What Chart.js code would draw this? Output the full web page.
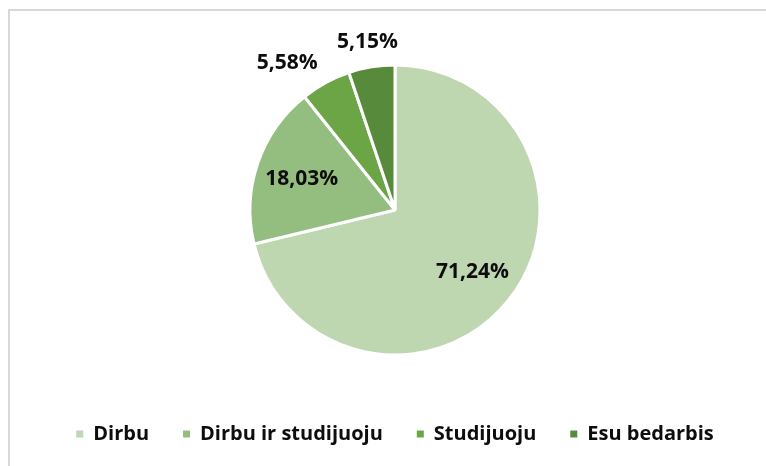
<!doctype html>
<html lang="lt">
  <head>
    <meta charset="utf-8" />
    <title>Užimtumas</title>
    <style>
      body {
        margin: 0;
        background: #ffffff;
      }

      .frame {
        position: absolute;
        left: 8px;
        top: 9px;
        width: 900px;
        height: 600px;
        border: 2px solid #d9d9d9;
      }

      #pieChart {
        position: absolute;
        left: 0;
        top: 0;
      }
    </style>
  </head>

  <body>
    <div class="frame"></div>
    <canvas id="pieChart" width="766" height="466"></canvas>

    <script src="https://cdn.jsdelivr.net/npm/chart.js@4.4.1/dist/chart.umd.min.js"></script>
    <script type="text/javascript">
      // Data
      const categories = ["Dirbu", "Dirbu ir studijuoju", "Studijuoju", "Esu bedarbis"];
      const shares = [71.24, 18.03, 5.58, 5.15];
      const sliceColors = ["#bfd7b1", "#94be7f", "#6ba546", "#578a3b"];

      const textColor = "#0d0d0d";
      const fontFamily = "'Open Sans'";
      const labelFont = "bold 21px " + fontFamily;

      // Format 71.24 -> "71,24%"
      function formatShare(value) {
        return value.toFixed(2).replace(".", ",") + "%";
      }

      // Draws the percentage labels: big slices inside, small ones outside
      const pieLabels = {
        id: "pieLabels",
        afterDatasetsDraw(chart) {
          const ctx = chart.ctx;
          const meta = chart.getDatasetMeta(0);
          const placed = [];
          const h = 15;

          ctx.save();
          ctx.font = labelFont;
          ctx.fillStyle = textColor;
          ctx.textAlign = "center";
          ctx.textBaseline = "middle";

          // walk backwards so the last slice keeps its spot
          for (let i = meta.data.length - 1; i >= 0; i--) {
            const arc = meta.data[i];
            const text = formatShare(shares[i]);
            const w = ctx.measureText(text).width;
            const p = arc.getProps(["x", "y", "startAngle", "endAngle", "outerRadius"], true);
            let angle = (p.startAngle + p.endAngle) / 2;
            const inside = shares[i] > 10;
            let px, py;

            const at = (a) => {
              let dist;
              if (inside) {
                dist = p.outerRadius * 0.68;
              } else {
                dist = p.outerRadius + 14 +
                  Math.abs(Math.cos(a)) * w / 2 + Math.abs(Math.sin(a)) * h / 2;
              }
              px = p.x + Math.cos(a) * dist;
              py = p.y + Math.sin(a) * dist;
            };
            at(angle);

            if (!inside) {
              let tries = 0;
              const hits = () => placed.some((b) =>
                Math.abs(b.x - px) < (b.w + w) / 2 + 18 &&
                Math.abs(b.y - py) < (b.h + h) / 2 + 6);
              while (hits() && tries < 120) {
                angle -= Math.PI / 360;
                at(angle);
                tries++;
              }
            }

            placed.push({ x: px, y: py + 1, w: w, h: h });
            ctx.fillText(text, px, py + 1);
          }
          ctx.restore();
        },
      };

      const ctx = document.getElementById("pieChart").getContext("2d");
      const pieChart = new Chart(ctx, {
        type: "pie",
        data: {
          labels: categories,
          datasets: [
            {
              data: shares,
              backgroundColor: sliceColors,
              borderColor: "#ffffff",
              borderWidth: 3,
              radius: 145,
            },
          ],
        },
        options: {
          responsive: false,
          animation: false,
          layout: {
            padding: { top: 30, bottom: 12, left: 24, right: 0 },
          },
          plugins: {
            tooltip: { enabled: false },
            legend: {
              position: "bottom",
              labels: {
                boxWidth: 7,
                boxHeight: 7,
                padding: 34,
                color: textColor,
                font: { family: "Open Sans", size: 20, weight: "bold" },
                generateLabels: function (chart) {
                  const items = Chart.overrides.pie.plugins.legend.labels.generateLabels(chart);
                  return items.map((item) => {
                    item.strokeStyle = item.fillStyle;
                    item.lineWidth = 0;
                    return item;
                  });
                },
              },
            },
          },
        },
        plugins: [pieLabels],
      });
    </script>
  </body>
</html>
